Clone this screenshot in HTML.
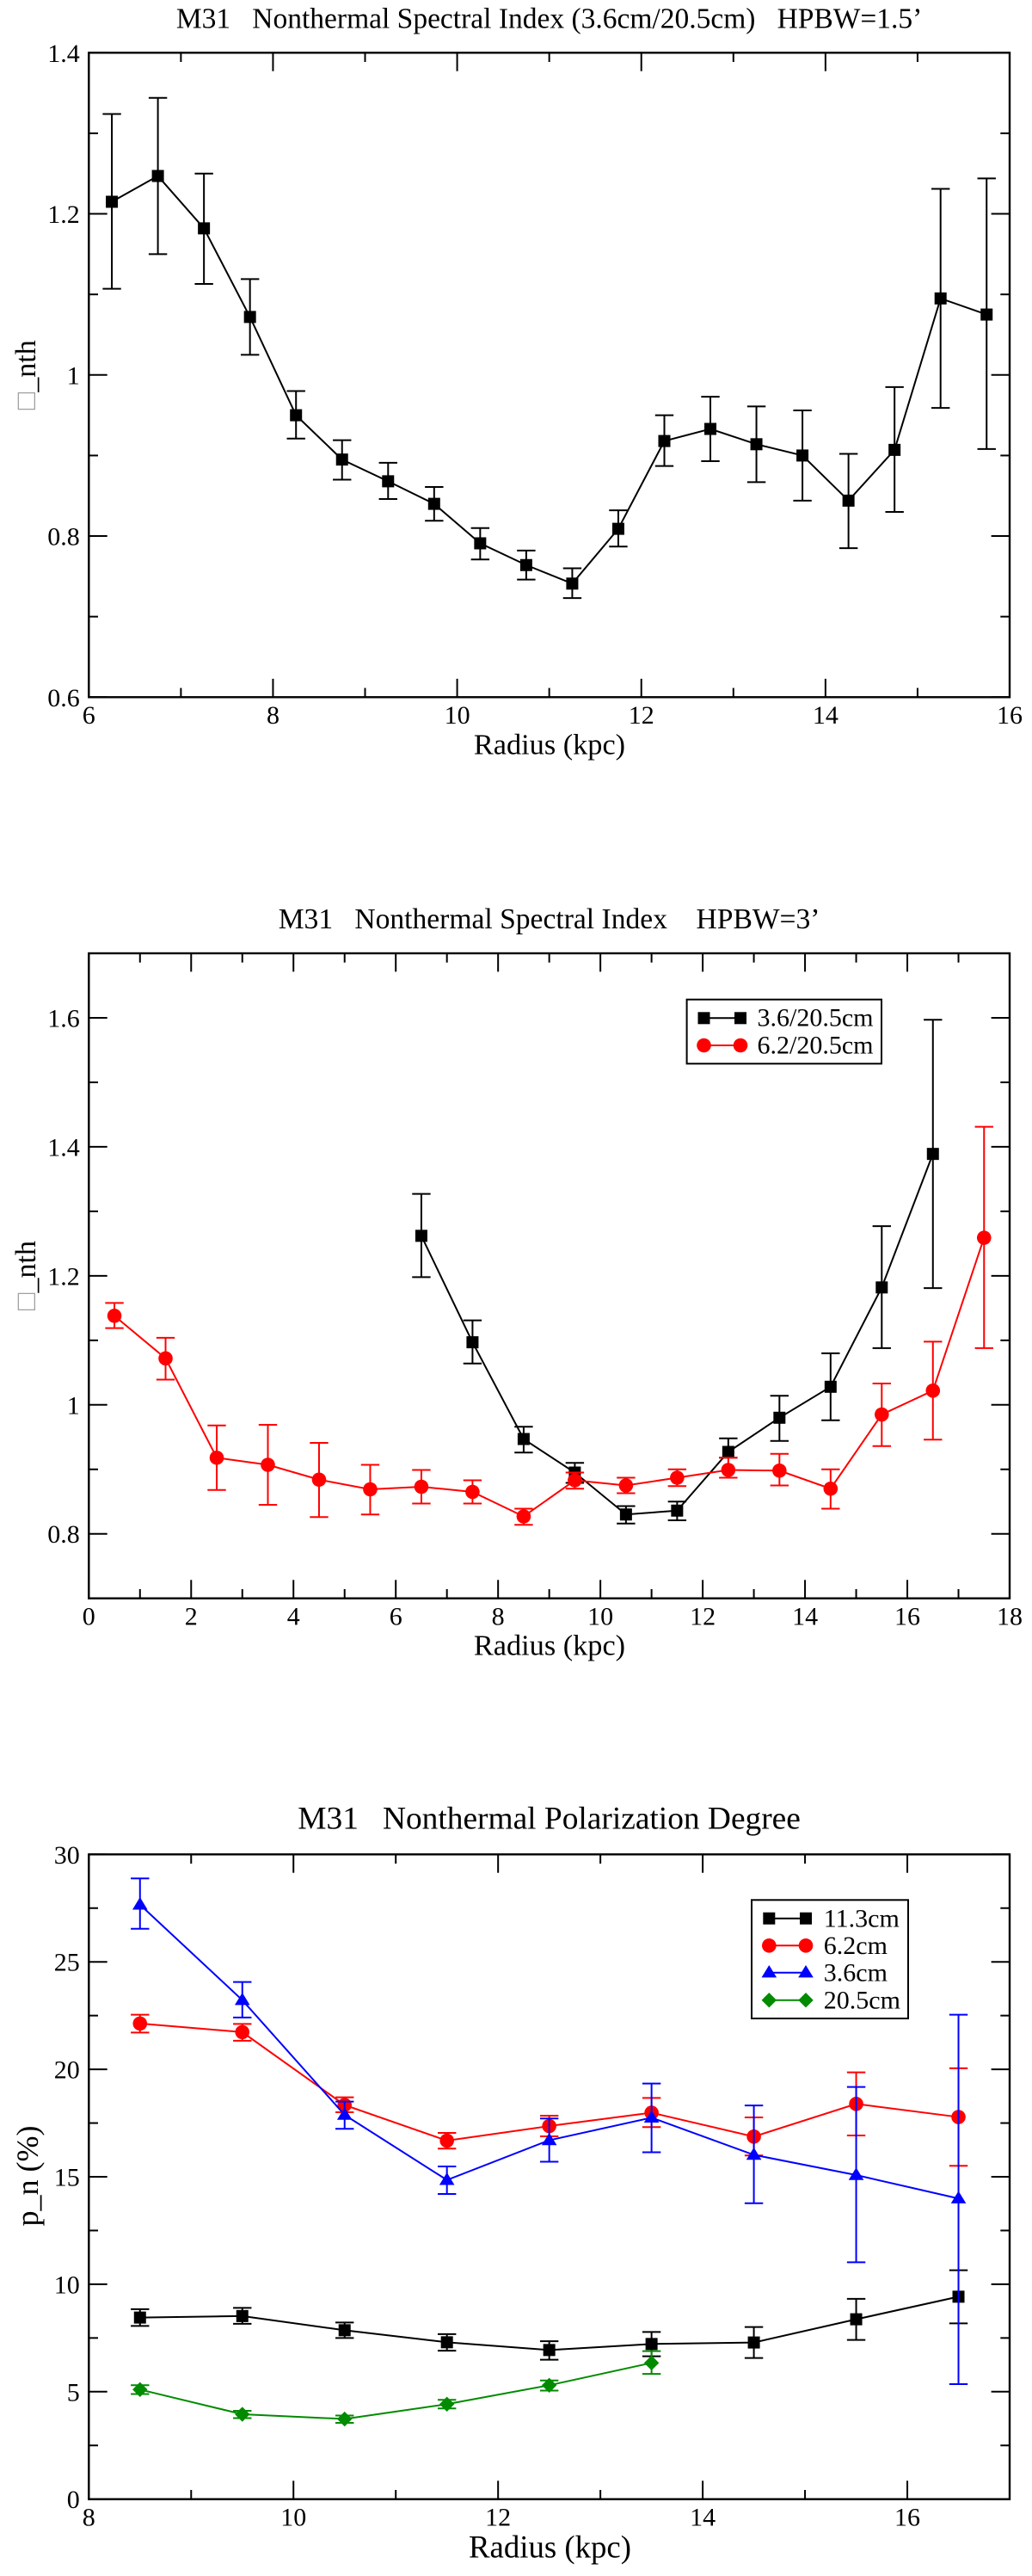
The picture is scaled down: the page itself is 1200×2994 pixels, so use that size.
<!DOCTYPE html>
<html lang="en">
<head>
<meta charset="utf-8">
<title>M31 Nonthermal Spectral Index and Polarization Degree</title>
<style>
  html, body { margin: 0; padding: 0; background: #fff; }
  svg { display: block; filter: blur(0.35px); }
  text { font-family: "Liberation Serif", "Noto Serif CJK SC", serif; fill: #000; white-space: pre; }
</style>
</head>
<body>
<svg id="figure" xmlns="http://www.w3.org/2000/svg" width="1200" height="2994" viewBox="0 0 1200 2994">
  <rect x="0" y="0" width="1200" height="2994" fill="#fff"/>

  <g id="chart1">
    <text x="638.6" y="32.3" font-size="33.5" text-anchor="middle" xml:space="preserve">M31   Nonthermal Spectral Index (3.6cm/20.5cm)   HPBW=1.5’</text>
    <text x="639" y="876.7" font-size="34.3" text-anchor="middle">Radius (kpc)</text>
    <text transform="translate(41,435.8) rotate(-90)" font-size="34" text-anchor="middle"><tspan style="fill:#a0a0a0">□</tspan>_nth</text>
  </g>

  <g id="chart2">
    <text x="638.6" y="1079" font-size="33.6" text-anchor="middle" xml:space="preserve">M31   Nonthermal Spectral Index    HPBW=3’</text>
    <text x="639" y="1923.3" font-size="34.3" text-anchor="middle">Radius (kpc)</text>
    <text transform="translate(41,1482.5) rotate(-90)" font-size="34" text-anchor="middle"><tspan style="fill:#a0a0a0">□</tspan>_nth</text>
  </g>

  <g id="chart3">
    <text x="638.6" y="2125.7" font-size="37.4" text-anchor="middle" xml:space="preserve">M31   Nonthermal Polarization Degree</text>
    <text x="639.5" y="2972.3" font-size="36.8" text-anchor="middle">Radius (kpc)</text>
    <text transform="translate(44,2529) rotate(-90)" font-size="36" text-anchor="middle">p_n (%)</text>
  </g>

  <g id="legend2">
    <rect x="798.6" y="1161.7" width="226.4" height="74.6" fill="#fff" stroke="#000" stroke-width="2"/>
    <g>
      <line x1="818.5" x2="861" y1="1183.3" y2="1183.3" stroke="#000" stroke-width="2"/>
      <rect x="811.5" y="1176.3" width="14" height="14" fill="#000"/>
      <rect x="854" y="1176.3" width="14" height="14" fill="#000"/>
      <text x="880.5" y="1192.3" font-size="30">3.6/20.5cm</text>
    </g>
    <g>
      <line x1="818.5" x2="861" y1="1215" y2="1215" stroke="#f00" stroke-width="2"/>
      <circle cx="818.5" cy="1215" r="8.3" fill="#f00"/>
      <circle cx="861" cy="1215" r="8.3" fill="#f00"/>
      <text x="880.5" y="1224.3" font-size="30">6.2/20.5cm</text>
    </g>
  </g>

  <g id="legend3">
    <rect x="874" y="2208.3" width="182" height="137.7" fill="#fff" stroke="#000" stroke-width="2"/>
    <g>
      <line x1="894.3" x2="937" y1="2229.7" y2="2229.7" stroke="#000" stroke-width="2"/>
      <rect x="887.3" y="2222.7" width="14" height="14" fill="#000"/>
      <rect x="930" y="2222.7" width="14" height="14" fill="#000"/>
      <text x="957.8" y="2239.3" font-size="30">11.3cm</text>
    </g>
    <g>
      <line x1="894.3" x2="937" y1="2261.3" y2="2261.3" stroke="#f00" stroke-width="2"/>
      <circle cx="894.3" cy="2261.3" r="8.3" fill="#f00"/>
      <circle cx="937" cy="2261.3" r="8.3" fill="#f00"/>
      <text x="957.8" y="2271" font-size="30">6.2cm</text>
    </g>
    <g>
      <line x1="894.3" x2="937" y1="2292.7" y2="2292.7" stroke="#00f" stroke-width="2"/>
      <polygon points="894.3,2284 903.1,2298.4 885.5,2298.4" fill="#00f"/>
      <polygon points="937,2284 945.8,2298.4 928.2,2298.4" fill="#00f"/>
      <text x="957.8" y="2302.7" font-size="30">3.6cm</text>
    </g>
    <g>
      <line x1="894.3" x2="937" y1="2324.7" y2="2324.7" stroke="#008b00" stroke-width="2"/>
      <polygon points="894.3,2316 903,2324.7 894.3,2333.4 885.6,2324.7" fill="#008b00"/>
      <polygon points="937,2316 945.7,2324.7 937,2333.4 928.3,2324.7" fill="#008b00"/>
      <text x="957.8" y="2334.7" font-size="30">20.5cm</text>
    </g>
  </g>
</svg>

<script>
/* ---------- chart 1 data: HPBW = 1.5' ---------- */
const c1XMajor = [6, 8, 10, 12, 14, 16];
const c1XMinor = [7, 9, 11, 13, 15];
const c1XLabels = ['6', '8', '10', '12', '14', '16'];
const c1YMajor = [0.6, 0.8, 1, 1.2, 1.4];
const c1YMinor = [0.7, 0.9, 1.1, 1.3];
const c1YLabels = ['0.6', '0.8', '1', '1.2', '1.4'];
const c1Radius = [6.25, 6.75, 7.25, 7.75, 8.25, 8.75, 9.25, 9.75, 10.25, 10.75, 11.25, 11.75, 12.25, 12.75, 13.25, 13.75, 14.25, 14.75, 15.25, 15.75];
const c1Index = [1.215, 1.247, 1.182, 1.072, 0.950, 0.895, 0.868, 0.840, 0.791, 0.764, 0.741, 0.809, 0.918, 0.933, 0.914, 0.900, 0.844, 0.907, 1.095, 1.075];
const c1IndexUpper = [1.324, 1.344, 1.250, 1.119, 0.980, 0.919, 0.891, 0.861, 0.810, 0.782, 0.760, 0.832, 0.950, 0.973, 0.961, 0.956, 0.902, 0.985, 1.231, 1.244];
const c1IndexLower = [1.107, 1.150, 1.113, 1.025, 0.921, 0.870, 0.846, 0.819, 0.771, 0.746, 0.723, 0.787, 0.887, 0.893, 0.867, 0.844, 0.785, 0.830, 0.959, 0.908];

/* ---------- chart 2 data: HPBW = 3' ---------- */
const c2XMajor = [0, 2, 4, 6, 8, 10, 12, 14, 16, 18];
const c2XMinor = [1, 3, 5, 7, 9, 11, 13, 15, 17];
const c2XLabels = ['0', '2', '4', '6', '8', '10', '12', '14', '16', '18'];
const c2YMajor = [0.8, 1, 1.2, 1.4, 1.6];
const c2YMinor = [0.9, 1.1, 1.3, 1.5];
const c2YLabels = ['0.8', '1', '1.2', '1.4', '1.6'];
const c2BlackRadius = [6.5, 7.5, 8.5, 9.5, 10.5, 11.5, 12.5, 13.5, 14.5, 15.5, 16.5];
const c2BlackIndex = [1.262, 1.097, 0.947, 0.895, 0.830, 0.836, 0.927, 0.980, 1.028, 1.182, 1.389];
const c2BlackUpper = [1.327, 1.131, 0.966, 0.910, 0.843, 0.850, 0.948, 1.014, 1.080, 1.277, 1.597];
const c2BlackLower = [1.198, 1.064, 0.926, 0.879, 0.816, 0.821, 0.918, 0.944, 0.976, 1.088, 1.181];
const c2RedRadius = [0.5, 1.5, 2.5, 3.5, 4.5, 5.5, 6.5, 7.5, 8.5, 9.5, 10.5, 11.5, 12.5, 13.5, 14.5, 15.5, 16.5, 17.5];
const c2RedIndex = [1.138, 1.072, 0.918, 0.907, 0.884, 0.869, 0.873, 0.865, 0.827, 0.883, 0.875, 0.887, 0.899, 0.898, 0.870, 0.985, 1.022, 1.259];
const c2RedUpper = [1.158, 1.104, 0.968, 0.969, 0.941, 0.907, 0.899, 0.883, 0.839, 0.895, 0.887, 0.900, 0.918, 0.924, 0.900, 1.033, 1.098, 1.431];
const c2RedLower = [1.119, 1.039, 0.868, 0.845, 0.826, 0.830, 0.847, 0.847, 0.814, 0.870, 0.863, 0.874, 0.887, 0.875, 0.839, 0.936, 0.946, 1.088];

/* ---------- chart 3 data: polarization degree ---------- */
const c3XMajor = [8, 10, 12, 14, 16];
const c3XMinor = [9, 11, 13, 15, 17];
const c3XLabels = ['8', '10', '12', '14', '16'];
const c3YMajor = [0, 5, 10, 15, 20, 25, 30];
const c3YMinor = [2.5, 7.5, 12.5, 17.5, 22.5, 27.5];
const c3YLabels = ['0', '5', '10', '15', '20', '25', '30'];
const c3Radius = [8.5, 9.5, 10.5, 11.5, 12.5, 13.5, 14.5, 15.5, 16.5];
const c3Cm11 = [8.45, 8.52, 7.86, 7.30, 6.94, 7.22, 7.29, 8.37, 9.42];
const c3Cm11Upper = [8.84, 8.90, 8.22, 7.68, 7.35, 7.78, 8.01, 9.32, 10.65];
const c3Cm11Lower = [8.06, 8.16, 7.50, 6.91, 6.49, 6.65, 6.57, 7.41, 8.18];
const c3Cm6 = [22.13, 21.73, 18.34, 16.68, 17.36, 17.98, 16.87, 18.39, 17.78];
const c3Cm6Upper = [22.54, 22.11, 18.70, 17.04, 17.84, 18.67, 17.76, 19.86, 20.05];
const c3Cm6Lower = [21.71, 21.33, 18.00, 16.31, 16.88, 17.31, 15.99, 16.92, 15.51];
const c3Cm3 = [27.66, 23.22, 17.88, 14.85, 16.70, 17.75, 16.02, 15.08, 13.99];
const c3Cm3Upper = [28.88, 24.06, 18.50, 15.48, 17.71, 19.34, 18.32, 19.18, 22.54];
const c3Cm3Lower = [26.54, 22.41, 17.23, 14.20, 15.70, 16.14, 13.77, 11.02, 5.35];
const c3Cm20Radius = [8.5, 9.5, 10.5, 11.5, 12.5, 13.5];
const c3Cm20 = [5.10, 3.95, 3.73, 4.42, 5.30, 6.34];
const c3Cm20Upper = [5.30, 4.11, 3.89, 4.62, 5.52, 6.89];
const c3Cm20Lower = [4.89, 3.77, 3.55, 4.22, 5.05, 5.83];

const SVG_NS = 'http://www.w3.org/2000/svg';

function shape(parent, tag, attrs) {
  const node = document.createElementNS(SVG_NS, tag);
  Object.keys(attrs).forEach(function (k) { node.setAttribute(k, attrs[k]); });
  parent.appendChild(node);
  return node;
}

function makeAxes(groupId, frame, xDomain, yDomain) {
  const x = function (v) { return frame.left + (v - xDomain[0]) / (xDomain[1] - xDomain[0]) * (frame.right - frame.left); };
  const y = function (v) { return frame.bottom - (v - yDomain[0]) / (yDomain[1] - yDomain[0]) * (frame.bottom - frame.top); };
  return { group: document.getElementById(groupId), frame: frame, x: x, y: y };
}

function drawAxes(ax, xMajor, xMinor, xLabels, yMajor, yMinor, yLabels) {
  const f = ax.frame;
  const major = 21.4;
  const minor = 10.7;
  const axisGroup = shape(ax.group, 'g', { stroke: '#000', 'stroke-width': 2 });
  
  

  function xTicks(values, len, name) {
    values.forEach(function (v) {
      const bottomTick = shape(axisGroup, 'line', { x1: ax.x(v), x2: ax.x(v), y1: f.bottom, y2: f.bottom - len });
      
      
      const topTick = shape(axisGroup, 'line', { x1: ax.x(v), x2: ax.x(v), y1: f.top, y2: f.top + len });
      
      
    });
  }
  function yTicks(values, len, name) {
    values.forEach(function (v) {
      const leftTick = shape(axisGroup, 'line', { x1: f.left, x2: f.left + len, y1: ax.y(v), y2: ax.y(v) });
      
      
      const rightTick = shape(axisGroup, 'line', { x1: f.right, x2: f.right - len, y1: ax.y(v), y2: ax.y(v) });
      
      
    });
  }
  xTicks(xMajor, major, 'x-major-tick');
  xTicks(xMinor, minor, 'x-minor-tick');
  yTicks(yMajor, major, 'y-major-tick');
  yTicks(yMinor, minor, 'y-minor-tick');

  const border = shape(axisGroup, 'rect', { x: f.left, y: f.top, width: f.right - f.left, height: f.bottom - f.top, fill: 'none', 'stroke-width': 2.4 });
  
  

  xMajor.forEach(function (v, i) {
    const label = shape(ax.group, 'text', { x: ax.x(v), y: f.bottom + 30.8, 'font-size': 30, 'text-anchor': 'middle' });
    label.textContent = xLabels[i];
    
    
  });
  yMajor.forEach(function (v, i) {
    const label = shape(ax.group, 'text', { x: f.left - 10.5, y: ax.y(v) + 10.5, 'font-size': 30, 'text-anchor': 'end' });
    label.textContent = yLabels[i];
    
    
  });
}

function drawMarker(parent, kind, cx, cy, color) {
  if (kind === 'square') {
    return shape(parent, 'rect', { x: cx - 7, y: cy - 7, width: 14, height: 14, fill: color });
  }
  if (kind === 'circle') {
    return shape(parent, 'circle', { cx: cx, cy: cy, r: 8.3, fill: color });
  }
  if (kind === 'triangle') {
    return shape(parent, 'polygon', { points: cx + ',' + (cy - 8.7) + ' ' + (cx + 8.8) + ',' + (cy + 5.7) + ' ' + (cx - 8.8) + ',' + (cy + 5.7), fill: color });
  }
  return shape(parent, 'polygon', { points: cx + ',' + (cy - 8.7) + ' ' + (cx + 8.7) + ',' + cy + ' ' + cx + ',' + (cy + 8.7) + ' ' + (cx - 8.7) + ',' + cy, fill: color });
}

function drawSeries(ax, seriesName, xs, ys, upper, lower, color, kind) {
  const seriesGroup = shape(ax.group, 'g', {});
  
  

  const pts = xs.map(function (v, i) { return ax.x(v) + ',' + ax.y(ys[i]); }).join(' ');
  const path = shape(seriesGroup, 'polyline', { points: pts, fill: 'none', stroke: color, 'stroke-width': 2 });
  
  

  const capHalf = 10.7;
  xs.forEach(function (v, i) {
    const px = ax.x(v);
    const errorGroup = shape(seriesGroup, 'g', { stroke: color, 'stroke-width': 2 });
    
    
    shape(errorGroup, 'line', { x1: px, x2: px, y1: ax.y(upper[i]), y2: ax.y(lower[i]) });
    shape(errorGroup, 'line', { x1: px - capHalf, x2: px + capHalf, y1: ax.y(upper[i]), y2: ax.y(upper[i]) });
    shape(errorGroup, 'line', { x1: px - capHalf, x2: px + capHalf, y1: ax.y(lower[i]), y2: ax.y(lower[i]) });
  });
  xs.forEach(function (v, i) {
    const mark = drawMarker(seriesGroup, kind, ax.x(v), ax.y(ys[i]), color);
    
    
  });
}

const ax1 = makeAxes('chart1', { left: 103.3, right: 1174, top: 61.3, bottom: 810.3 }, [6, 16], [0.6, 1.4]);
drawAxes(ax1, c1XMajor, c1XMinor, c1XLabels, c1YMajor, c1YMinor, c1YLabels);
drawSeries(ax1, '3-6-20-5cm', c1Radius, c1Index, c1IndexUpper, c1IndexLower, '#000', 'square');

const ax2 = makeAxes('chart2', { left: 103.3, right: 1174, top: 1108, bottom: 1857.7 }, [0, 18], [0.7, 1.7]);
drawAxes(ax2, c2XMajor, c2XMinor, c2XLabels, c2YMajor, c2YMinor, c2YLabels);
drawSeries(ax2, '3-6-20-5cm', c2BlackRadius, c2BlackIndex, c2BlackUpper, c2BlackLower, '#000', 'square');
drawSeries(ax2, '6-2-20-5cm', c2RedRadius, c2RedIndex, c2RedUpper, c2RedLower, '#f00', 'circle');

const ax3 = makeAxes('chart3', { left: 103.3, right: 1174, top: 2155.3, bottom: 2904.7 }, [8, 17], [0, 30]);
drawAxes(ax3, c3XMajor, c3XMinor, c3XLabels, c3YMajor, c3YMinor, c3YLabels);
drawSeries(ax3, '11-3cm', c3Radius, c3Cm11, c3Cm11Upper, c3Cm11Lower, '#000', 'square');
drawSeries(ax3, '6-2cm', c3Radius, c3Cm6, c3Cm6Upper, c3Cm6Lower, '#f00', 'circle');
drawSeries(ax3, '3-6cm', c3Radius, c3Cm3, c3Cm3Upper, c3Cm3Lower, '#00f', 'triangle');
drawSeries(ax3, '20-5cm', c3Cm20Radius, c3Cm20, c3Cm20Upper, c3Cm20Lower, '#008b00', 'diamond');

/* keep legends above the plot content */
const figure = document.getElementById('figure');
figure.appendChild(document.getElementById('legend2'));
figure.appendChild(document.getElementById('legend3'));
</script>
</body>
</html>
